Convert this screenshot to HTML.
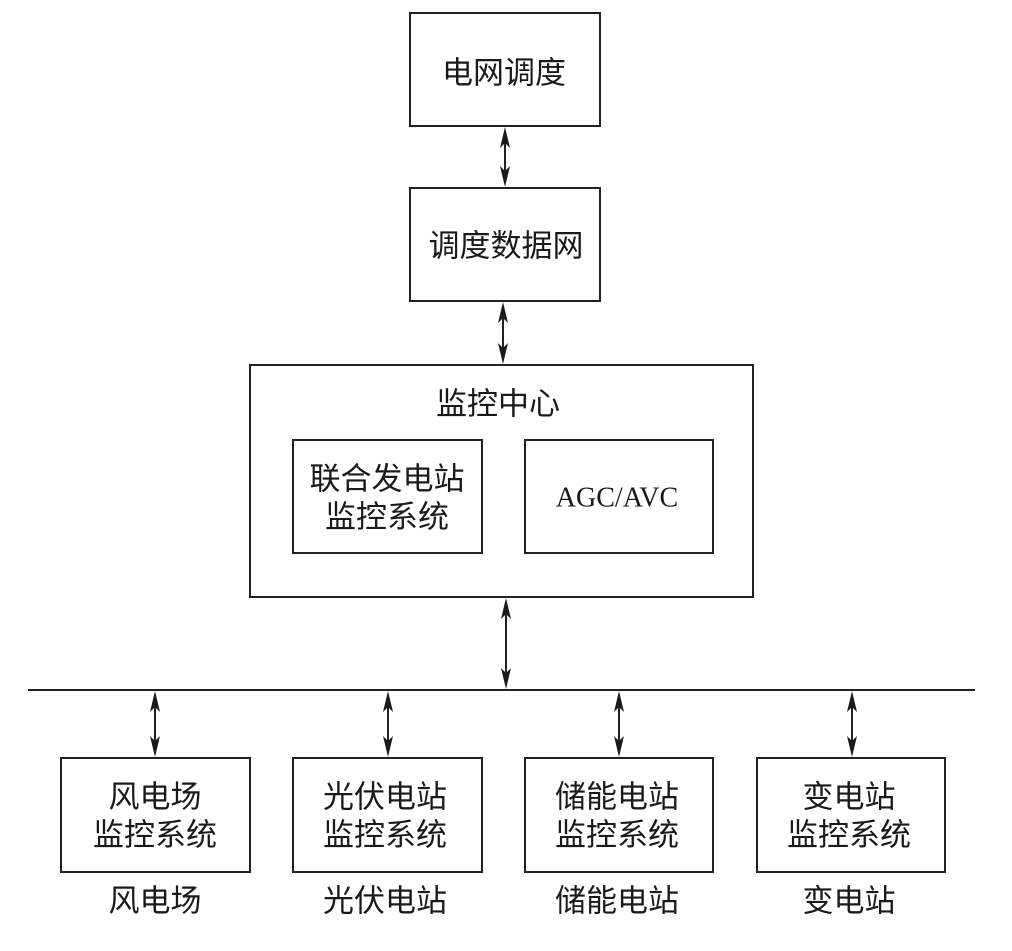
<!DOCTYPE html>
<html>
<head>
<meta charset="utf-8">
<style>
  html, body { margin: 0; padding: 0; background: #fff; }
  body { width: 1012px; height: 951px; overflow: hidden; }
  svg { display: block; }
  .cjk { font-family: "Liberation Sans", "Noto Sans CJK SC", "WenQuanYi Zen Hei", sans-serif; font-size: 31px; fill: #1a1a1a; }
  .lat { font-family: "Liberation Serif", serif; font-size: 28px; fill: #1a1a1a; }
</style>
</head>
<body>
<svg width="1012" height="951" viewBox="0 0 1012 951" xmlns="http://www.w3.org/2000/svg">
  <g fill="none" stroke="#222" stroke-width="2">
    <rect x="410" y="13" width="190" height="113"/>
    <rect x="410" y="188" width="190" height="113"/>
    <rect x="250" y="365" width="503" height="232"/>
    <rect x="293" y="440" width="189" height="113"/>
    <rect x="525" y="440" width="188" height="113"/>
    <line x1="28" y1="690" x2="975" y2="690"/>
    <rect x="61" y="758" width="189" height="114"/>
    <rect x="293" y="758" width="189" height="114"/>
    <rect x="525" y="758" width="188" height="114"/>
    <rect x="757" y="758" width="188" height="114"/>
  </g>

  <g stroke="#222" stroke-width="2" fill="none">
    <line x1="505" y1="135" x2="505" y2="180"/>
    <line x1="503" y1="310" x2="503" y2="357"/>
    <line x1="506" y1="606" x2="506" y2="682"/>
    <line x1="155" y1="699" x2="155" y2="749"/>
    <line x1="388" y1="699" x2="388" y2="749"/>
    <line x1="619" y1="699" x2="619" y2="749"/>
    <line x1="852" y1="699" x2="852" y2="749"/>
  </g>
  <g fill="#1a1a1a">
    <path d="M505 127 L510 148 L505 143 L500 148 Z"/>
    <path d="M505 187 L510 166 L505 171 L500 166 Z"/>
    <path d="M503 302 L508 323 L503 318 L498 323 Z"/>
    <path d="M503 364 L508 343 L503 348 L498 343 Z"/>
    <path d="M506 598 L511 619 L506 614 L501 619 Z"/>
    <path d="M506 689 L511 668 L506 673 L501 668 Z"/>
    <path d="M155 691 L160 712 L155 707 L150 712 Z"/>
    <path d="M155 757 L160 736 L155 741 L150 736 Z"/>
    <path d="M388 691 L393 712 L388 707 L383 712 Z"/>
    <path d="M388 757 L393 736 L388 741 L383 736 Z"/>
    <path d="M619 691 L624 712 L619 707 L614 712 Z"/>
    <path d="M619 757 L624 736 L619 741 L614 736 Z"/>
    <path d="M852 691 L857 712 L852 707 L847 712 Z"/>
    <path d="M852 757 L857 736 L852 741 L847 736 Z"/>
  </g>

  <g class="cjk" text-anchor="middle" dominant-baseline="central">
    <text x="504" y="73">电网调度</text>
    <text x="506" y="246">调度数据网</text>
    <text x="498" y="404">监控中心</text>
    <text x="387" y="479">联合发电站</text>
    <text x="387" y="517">监控系统</text>

    <text x="155" y="797">风电场</text>
    <text x="155" y="835">监控系统</text>
    <text x="385" y="797">光伏电站</text>
    <text x="385" y="835">监控系统</text>
    <text x="617" y="797">储能电站</text>
    <text x="617" y="835">监控系统</text>
    <text x="849" y="797">变电站</text>
    <text x="849" y="835">监控系统</text>

    <text x="155" y="901">风电场</text>
    <text x="385" y="901">光伏电站</text>
    <text x="617" y="901">储能电站</text>
    <text x="849" y="901">变电站</text>
  </g>
  <text class="lat" x="617" y="498" text-anchor="middle" dominant-baseline="central">AGC/AVC</text>
</svg>
</body>
</html>
